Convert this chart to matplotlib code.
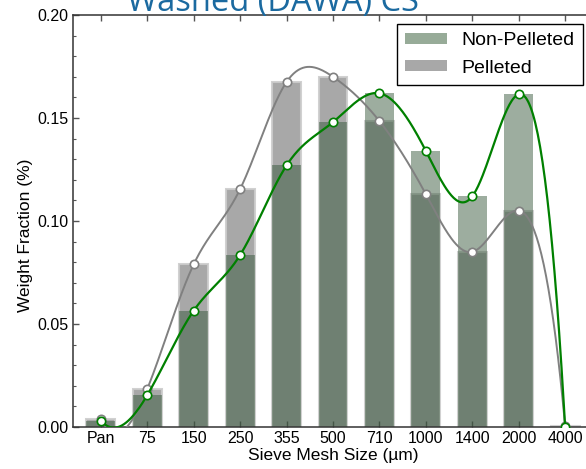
import numpy as np
import matplotlib
matplotlib.use("Agg")
import matplotlib.pyplot as plt
from matplotlib.patches import Patch

plt.rcParams['font.family'] = ['Liberation Sans', 'DejaVu Sans']

sieve_sizes = ['Pan', '75', '150', '250', '355', '500', '710', '1000', '1400', '2000', '4000']
non_pelleted = [0.003, 0.0155, 0.0565, 0.0835, 0.127, 0.148, 0.162, 0.134, 0.112, 0.1615, 0.0]
pelleted = [0.004, 0.0185, 0.079, 0.1155, 0.1675, 0.170, 0.1485, 0.113, 0.085, 0.105, 0.0005]


def spline_curve(y, pts_per_seg=40):
    # not-a-knot cubic spline on unit-spaced points
    y = np.asarray(y, dtype=float)
    n = len(y)
    A = np.zeros((n, n))
    b = np.zeros(n)
    A[0, :3] = [1, -2, 1]
    A[-1, -3:] = [1, -2, 1]
    for i in range(1, n - 1):
        A[i, i - 1:i + 2] = [1, 4, 1]
        b[i] = 6 * (y[i + 1] - 2 * y[i] + y[i - 1])
    M = np.linalg.solve(A, b)
    xs, ys = [], []
    for i in range(n - 1):
        t = np.linspace(0, 1, pts_per_seg, endpoint=(i == n - 2))
        s = ((1 - t) * y[i] + t * y[i + 1]
             + ((1 - t) ** 3 - (1 - t)) * M[i] / 6
             + (t ** 3 - t) * M[i + 1] / 6)
        xs.append(i + t)
        ys.append(s)
    return np.concatenate(xs), np.concatenate(ys)


x = np.arange(len(sieve_sizes))

fig = plt.figure(figsize=(5.86, 4.69), dpi=100)
ax = fig.add_axes([73 / 586, 42 / 469, 520 / 586, 412 / 469])

gray_face = (0, 0, 0, 0.34)
green_face = (50 / 255, 85 / 255, 55 / 255, 0.48)
ax.bar(x, pelleted, width=0.62, color=gray_face, edgecolor=(0.8, 0.8, 0.8, 0.9),
       linewidth=1.5, zorder=1)
ax.bar(x, non_pelleted, width=0.62, color=green_face, linewidth=0, zorder=2)

gx, gy = spline_curve(pelleted)
ax.plot(gx, gy, color='gray', lw=1.4, zorder=3)
ax.plot(x, pelleted, 'o', ms=6, mfc='white', mec='gray', mew=1.2, zorder=4)

nx, ny = spline_curve(non_pelleted)
ax.plot(nx, ny, color='green', lw=1.6, zorder=5)
ax.plot(x, non_pelleted, 'o', ms=6, mfc='white', mec='green', mew=1.2, zorder=6)

ax.set_xlim(-0.6, 10.6)
ax.set_ylim(0, 0.20)
ax.set_xticks(x)
ax.set_xticklabels(sieve_sizes)
ax.set_yticks(np.arange(0, 0.201, 0.05))
ax.set_yticks(np.arange(0, 0.201, 0.01), minor=True)
ax.yaxis.set_major_formatter(matplotlib.ticker.FormatStrFormatter('%.2f'))
ax.tick_params(which='both', direction='in', top=True, right=True, labelsize=11.5, pad=3)
ax.tick_params(which='major', length=4, width=1, color='#555555')
ax.tick_params(which='minor', length=2.5, width=0.8, color='#555555')
for sp in ax.spines.values():
    sp.set_linewidth(1.1)
    sp.set_color('#333333')

ax.set_xlabel('Sieve Mesh Size (µm)', fontsize=12.5, labelpad=1)
ax.set_ylabel('Weight Fraction (%)', fontsize=12.5)
ax.yaxis.set_label_coords(-0.077, 0.466)

handles = [Patch(facecolor='#97ab98', edgecolor='none', label='Non-Pelleted'),
           Patch(facecolor='#a8a8a8', edgecolor='none', label='Pelleted')]
leg = ax.legend(handles=handles, loc='upper right', bbox_to_anchor=(510 / 520, 1 - 9 / 412),
                borderaxespad=0, fontsize=14, fancybox=False, framealpha=1,
                handlelength=2.15, handleheight=0.5, handletextpad=0.75,
                borderpad=0.42, labelspacing=0.55)
leg.get_frame().set_edgecolor('black')
leg.get_frame().set_linewidth(1.0)

fig.text(273 / 586, 1 - 11 / 469, 'Washed (DAWA) CS', ha='center', va='baseline',
         fontsize=23.5, color='#1b6aa0', family=['Open Sans', 'DejaVu Sans'])

fig.savefig('out.png', dpi=100)
